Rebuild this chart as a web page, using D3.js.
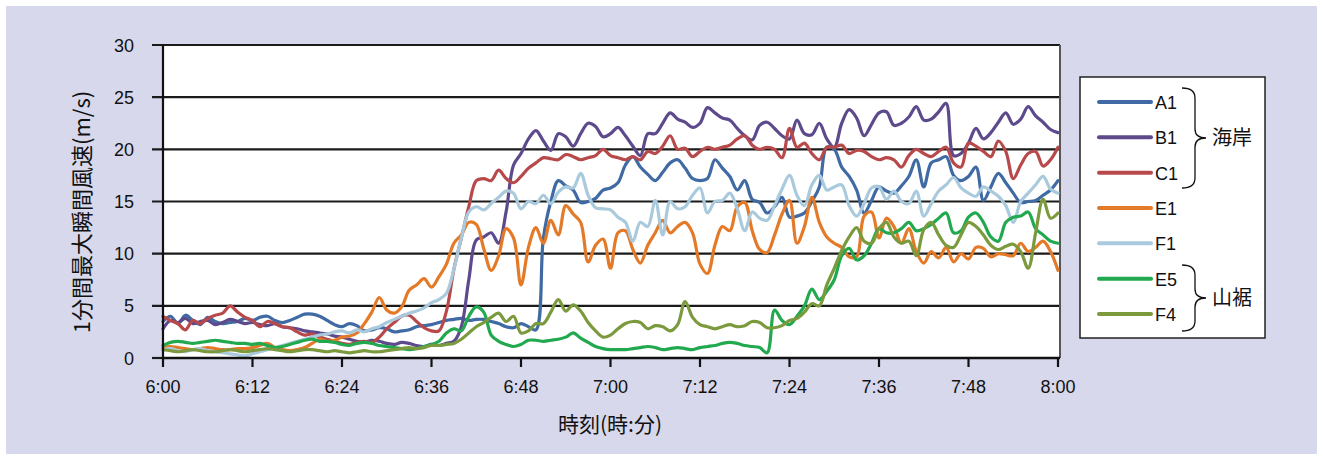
<!DOCTYPE html>
<html><head><meta charset="utf-8">
<script src="https://cdn.jsdelivr.net/npm/d3@7/dist/d3.min.js"></script>
<style>
html,body{margin:0;padding:0;background:#fff;}
svg{display:block;}
text{font-family:"Liberation Sans",Arial,"Noto Sans CJK JP",sans-serif;fill:#111;}
.cjk{font-family:"Noto Sans CJK JP","Liberation Sans",sans-serif;}
</style></head>
<body>
<svg id="c" width="1323" height="459"></svg>
<script>
// ---- data (1-minute samples from 6:00 to 8:00) ----
const xTickLabels = ["6:00","6:12","6:24","6:36","6:48","7:00","7:12","7:24","7:36","7:48","8:00"];
const yTicks = [0,5,10,15,20,25,30];
const seriesNames = ["A1","B1","C1","E1","F1","E5","F4"];
const seriesColors = ["#3f6aa3","#5d4a8c","#b8494b","#e47a28","#a9cadd","#22a94f","#7b9a3d"];

const A1 = [3.5,4.0,3.3,4.1,3.6,3.2,3.9,3.5,3.3,3.4,
 3.5,3.8,3.6,3.9,4.0,3.6,3.4,3.6,3.9,4.2,
 4.2,4.0,3.6,3.2,3.0,3.3,3.1,2.6,2.7,2.9,
 2.8,2.5,2.6,2.7,3.0,3.1,3.2,3.4,3.6,3.7,
 3.8,3.6,3.7,3.7,3.5,3.3,3.0,2.9,3.3,3.0,
 2.7,11.5,15.0,17.0,16.5,16.1,14.9,15.0,15.3,16.1,
 16.3,16.8,18.5,19.3,18.3,17.6,17.0,17.8,18.7,19.0,
 18.2,17.2,17.0,17.2,19.0,18.2,17.4,16.1,17.0,15.2,
 14.9,13.9,14.5,15.4,13.5,13.6,13.9,15.0,16.4,20.2,
 20.0,18.3,17.4,16.1,13.9,15.1,16.4,16.0,15.8,16.5,
 17.4,19.0,16.4,18.7,19.0,19.3,17.5,17.0,17.4,18.3,
 15.1,16.4,17.7,16.8,15.8,14.9,15.0,15.1,15.6,16.1,17.0];

const B1 = [2.8,3.6,3.4,3.8,3.3,3.5,3.6,3.2,3.4,3.7,
 3.5,3.3,3.4,3.2,3.1,3.3,3.0,2.9,2.8,2.6,
 2.5,2.4,2.3,2.1,2.0,1.8,1.6,1.5,1.7,1.6,
 1.4,1.3,1.5,1.4,1.2,1.1,1.3,1.2,1.4,1.6,
 3.0,7.5,11.3,11.6,12.0,11.0,14.0,18.5,19.6,21.0,
 21.8,20.8,19.9,21.5,21.2,20.3,21.5,22.5,22.2,21.2,
 21.5,22.1,21.3,20.3,19.4,21.5,21.5,22.5,23.5,22.9,
 22.6,22.1,22.5,24.0,23.5,23.0,22.8,22.0,21.3,20.9,
 22.3,22.6,22.0,21.3,21.0,22.8,21.5,21.4,22.5,21.0,
 20.2,22.5,23.8,23.0,21.3,22.4,23.5,23.6,22.3,22.5,
 23.1,24.1,22.8,22.9,23.6,24.4,19.4,19.6,20.6,22.0,
 21.0,21.6,22.6,23.5,22.4,22.9,24.1,23.2,22.6,21.9,21.6];

const C1 = [4.0,3.6,3.3,2.7,3.6,3.3,3.8,4.1,4.3,5.0,
 4.4,3.9,3.6,3.0,3.5,3.3,3.0,2.9,2.5,2.2,
 2.3,2.0,1.8,1.6,1.4,1.3,1.5,1.6,1.5,2.0,
 2.8,3.4,4.0,4.1,3.5,2.9,2.6,2.6,4.5,8.5,
 11.5,14.5,17.0,17.2,17.0,18.0,17.2,16.8,17.4,18.2,
 18.7,19.2,19.1,19.0,19.5,19.3,19.0,19.2,19.4,20.0,
 19.4,19.2,19.0,19.3,19.0,19.8,19.6,20.3,21.3,20.0,
 20.1,19.3,19.8,20.2,20.0,20.2,20.4,21.0,21.3,20.4,
 20.0,20.2,20.0,19.2,22.0,20.2,20.6,19.6,19.0,20.2,
 20.2,20.4,19.6,19.9,19.8,19.3,19.0,19.2,19.0,18.3,
 19.4,20.0,19.6,19.3,19.8,20.2,18.7,18.3,20.6,20.3,
 19.8,19.3,20.8,19.8,17.2,18.5,19.6,19.8,18.4,19.0,20.2];

const E1 = [1.0,1.1,1.0,0.9,0.8,0.9,1.0,0.9,0.8,0.8,
 0.9,0.9,1.0,1.2,1.4,1.0,0.8,0.7,0.8,1.0,
 1.4,1.8,1.6,1.7,2.0,2.1,2.4,3.3,4.4,5.8,
 4.6,4.3,4.9,6.5,7.0,7.6,6.8,7.8,9.0,11.0,
 11.8,13.0,12.8,10.5,8.4,9.8,12.4,11.5,7.0,10.6,
 12.5,11.0,13.2,11.8,14.6,13.8,13.0,9.2,10.8,11.4,
 8.6,12.0,12.2,10.4,9.1,10.8,12.0,13.2,12.0,12.6,
 13.0,12.0,9.0,8.1,10.8,12.6,12.2,14.5,14.9,12.2,
 10.4,10.1,11.8,13.8,15.1,11.0,12.6,15.4,13.0,11.6,
 11.0,10.6,9.7,9.7,13.6,14.0,11.5,13.4,12.6,11.0,
 12.4,10.2,9.1,10.2,9.6,10.6,9.2,10.0,9.5,10.6,
 10.5,9.7,10.0,9.9,9.8,11.0,10.2,10.6,11.2,10.2,8.4];

const F1 = [0.8,0.9,0.7,0.6,0.8,0.9,0.7,0.6,0.5,0.4,
 0.3,0.2,0.4,0.6,0.8,1.0,1.2,1.4,1.6,1.8,
 2.0,2.2,2.3,2.5,2.6,2.4,2.7,2.5,2.8,3.0,
 3.4,3.7,4.0,4.3,4.5,4.8,5.3,5.6,6.2,8.5,
 11.5,14.0,14.5,14.2,14.8,15.4,16.0,15.8,14.3,15.0,
 14.8,15.6,14.8,15.9,16.4,16.3,17.7,15.6,14.4,14.3,
 14.2,13.5,13.0,11.2,13.0,12.6,15.1,11.8,15.0,14.3,
 14.5,15.6,16.3,13.9,15.0,15.1,15.8,14.3,12.2,14.0,
 13.4,13.2,14.6,16.2,17.5,15.6,14.6,16.6,17.5,16.1,
 16.4,16.6,14.6,13.6,14.8,16.3,16.4,15.2,16.0,15.0,
 14.8,16.0,13.6,14.8,16.0,16.6,17.3,16.3,15.8,15.5,
 16.4,16.0,15.5,14.6,13.0,15.0,15.8,16.6,17.4,16.2,15.8];

const E5 = [1.2,1.5,1.6,1.5,1.4,1.5,1.6,1.7,1.6,1.5,
 1.4,1.4,1.3,1.4,1.2,1.0,1.1,1.3,1.5,1.7,
 1.8,1.6,1.6,1.5,1.3,1.2,1.4,1.5,1.4,1.2,
 1.1,1.0,0.9,0.8,0.9,1.1,1.3,1.6,2.4,2.8,
 2.6,4.0,4.9,4.4,2.2,1.6,1.3,1.1,1.3,1.7,
 1.7,1.6,1.7,1.8,2.0,2.4,1.9,1.5,1.1,0.9,
 0.8,0.8,0.8,0.9,1.0,1.1,1.0,0.8,0.9,1.0,
 0.9,0.8,1.0,1.1,1.2,1.4,1.5,1.4,1.2,1.1,
 1.0,0.5,4.6,3.6,3.2,4.0,5.0,6.6,5.6,6.4,
 7.5,9.8,10.5,9.4,9.8,11.0,12.4,12.0,12.0,12.4,
 13.0,12.2,12.4,12.8,13.4,13.9,12.0,12.2,13.5,13.9,
 13.0,11.6,11.2,13.0,13.5,13.6,14.0,12.4,11.8,11.2,11.0];

const F4 = [0.8,0.7,0.6,0.7,0.8,0.7,0.6,0.6,0.7,0.8,
 0.7,0.6,0.7,0.8,0.9,0.8,0.7,0.6,0.7,0.8,
 0.8,0.7,0.6,0.7,0.6,0.5,0.6,0.7,0.6,0.6,
 0.7,0.8,0.9,1.0,0.9,1.0,1.2,1.2,1.3,1.4,
 1.8,2.4,3.0,3.4,3.9,4.3,3.5,4.0,2.4,2.6,
 3.3,3.3,4.4,5.6,4.5,5.1,4.5,3.4,2.6,2.0,
 2.2,2.8,3.3,3.5,3.4,2.8,3.1,3.0,2.6,3.2,
 5.4,3.9,3.2,3.0,2.8,3.0,3.2,3.0,3.1,3.5,
 3.4,2.9,2.9,3.1,3.6,3.8,4.4,5.2,5.0,7.0,
 8.6,10.3,11.6,12.5,11.2,11.0,12.4,13.0,11.6,11.0,
 11.2,9.8,12.3,13.0,11.8,10.8,10.6,11.8,13.0,12.6,
 11.8,10.8,10.4,10.7,10.9,10.2,8.6,12.0,15.2,13.4,13.9];

const seriesValues = [A1,B1,C1,E1,F1,E5,F4];
const groupLabels = ["海岸","山裾"];
const yTitle = "1分間最大瞬間風速(m/s)";
const xTitle = "時刻(時:分)";

// ---- drawing ----
const svg = d3.select("#c");
const plot = {left:163, right:1060, top:45, bottom:358};

svg.append("rect").attr("x",6).attr("y",6).attr("width",1311).attr("height",448).attr("fill","#d7d8eb");

const x = d3.scaleLinear().domain([0,120]).range([plot.left, 1058]);
const y = d3.scaleLinear().domain([0,30]).range([plot.bottom, plot.top]);

svg.append("rect").attr("x",plot.left).attr("y",plot.top)
  .attr("width",plot.right-plot.left).attr("height",plot.bottom-plot.top).attr("fill","#fff");

// gridlines + y ticks
svg.append("g").selectAll("line").data(yTicks.filter(d=>d>0)).join("line")
  .attr("x1",152).attr("x2",plot.right).attr("y1",d=>y(d)).attr("y2",d=>y(d))
  .attr("stroke","#1a1a1a").attr("stroke-width",2.2);
svg.append("line").attr("x1",152).attr("x2",plot.left).attr("y1",y(0)).attr("y2",y(0))
  .attr("stroke","#1a1a1a").attr("stroke-width",2.2);
svg.append("g").selectAll("text").data(yTicks).join("text")
  .attr("x",134).attr("y",d=>y(d)+6.5).attr("text-anchor","end")
  .attr("font-size",18).text(d=>d);

// right border
svg.append("line").attr("x1",plot.right).attr("x2",plot.right).attr("y1",plot.top).attr("y2",plot.bottom)
  .attr("stroke","#555").attr("stroke-width",2);

// series lines
const line = d3.line().x((d,i)=>x(i)).y(d=>y(d)).curve(d3.curveCatmullRom.alpha(0.5));
svg.append("g").selectAll("path").data(seriesValues).join("path")
  .attr("d",d=>line(d)).attr("fill","none")
  .attr("stroke",(d,i)=>seriesColors[i]).attr("stroke-width",3.2)
  .attr("stroke-linejoin","round").attr("stroke-linecap","round");

// axes lines
svg.append("line").attr("x1",plot.left).attr("x2",plot.left).attr("y1",plot.top).attr("y2",plot.bottom+1)
  .attr("stroke","#111").attr("stroke-width",2.2);
svg.append("line").attr("x1",plot.left-1).attr("x2",plot.right).attr("y1",plot.bottom).attr("y2",plot.bottom)
  .attr("stroke","#111").attr("stroke-width",2.5);
// x ticks
const xTickPos = xTickLabels.map((t,i)=>i*12);
svg.append("g").selectAll("line").data(xTickPos).join("line")
  .attr("x1",d=>x(d)).attr("x2",d=>x(d)).attr("y1",plot.bottom).attr("y2",plot.bottom+9)
  .attr("stroke","#111").attr("stroke-width",2.2);
svg.append("g").selectAll("text").data(xTickLabels).join("text")
  .attr("x",(d,i)=>x(xTickPos[i])).attr("y",393).attr("text-anchor","middle")
  .attr("font-size",18).text(d=>d);

// titles
svg.append("text").attr("class","cjk").attr("x",610).attr("y",432).attr("text-anchor","middle")
  .attr("font-size",21).text(xTitle);
svg.append("text").attr("class","cjk").attr("transform","translate(90,212) rotate(-90)")
  .attr("text-anchor","middle").attr("font-size",22).text(yTitle);

// legend
const lg = svg.append("g");
lg.append("rect").attr("x",1080).attr("y",77).attr("width",185).attr("height",261)
  .attr("fill","#fff").attr("stroke","#222").attr("stroke-width",1.5);
const ly = d3.scalePoint().domain(seriesNames).range([102,314]);
lg.selectAll("line").data(seriesNames).join("line")
  .attr("x1",1099).attr("x2",1151).attr("y1",d=>ly(d)).attr("y2",d=>ly(d))
  .attr("stroke",(d,i)=>seriesColors[i]).attr("stroke-width",4).attr("stroke-linecap","round");
lg.selectAll("text.n").data(seriesNames).join("text").attr("class","n")
  .attr("x",1155).attr("y",d=>ly(d)+7).attr("font-size",18).text(d=>d);

function brace(y0,y1,xa,xb){
  const ym=(y0+y1)/2, xm=(xa+xb)/2+1;
  return `M${xa},${y0} Q${xm},${y0} ${xm},${y0+10} L${xm},${ym-9} Q${xm},${ym} ${xb},${ym} Q${xm},${ym} ${xm},${ym+9} L${xm},${y1-10} Q${xm},${y1} ${xa},${y1}`;
}
lg.append("path").attr("d",brace(88,188,1182,1206)).attr("fill","none").attr("stroke","#111").attr("stroke-width",1.3);
lg.append("path").attr("d",brace(265,331,1182,1206)).attr("fill","none").attr("stroke","#111").attr("stroke-width",1.3);
lg.append("text").attr("class","cjk").attr("x",1212).attr("y",145).attr("font-size",20).text(groupLabels[0]);
lg.append("text").attr("class","cjk").attr("x",1212).attr("y",305).attr("font-size",20).text(groupLabels[1]);
</script>
</body></html>
